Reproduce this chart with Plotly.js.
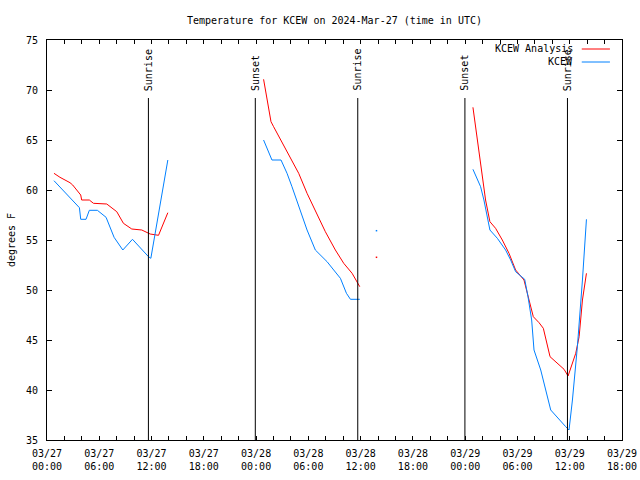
<!DOCTYPE html>
<html>
<head>
<meta charset="utf-8">
<script src="https://cdn.plot.ly/plotly-3.0.1.min.js"></script>
<style>html,body{margin:0;padding:0;background:#fff;}#chart{width:640px;height:480px;}</style>
</head>
<body>
<div id="chart"></div>
<script>
// Hours since 2024-03-27 00:00 UTC; null separates gaps in the record
const anaHours = [0.80,1.49,2.64,2.95,3.87,3.98,4.86,5.33,6.86,7.43,8.01,8.77,9.73,10.88,11.84,12.80,13.87,
  null,
  24.86,25.71,26.01,27.16,27.93,28.89,29.85,30.80,31.95,33.10,34.06,35.02,35.90,
  null,
  37.82,
  null,
  48.89,49.58,50.34,50.84,51.49,52.26,53.03,53.79,54.75,55.33,55.82,56.48,56.97,57.74,58.59,59.35,59.81,60.69,61.08,61.46,61.92];
const anaTemps = [61.67,61.27,60.73,60.5,59.5,59.0,59.0,58.67,58.6,58.23,57.83,56.67,56.1,56.0,55.6,55.47,57.73,
  null,
  71.07,66.83,66.33,64.5,63.33,61.67,59.67,58.0,55.83,54.0,52.67,51.67,50.33,
  null,
  53.27,
  null,
  68.27,63.67,59.0,56.83,56.17,55.0,53.67,52.0,51.0,49.0,47.33,46.73,46.17,43.33,42.67,42.07,41.4,43.67,45.33,49.0,51.67];

const obsHours = [0.80,3.72,3.87,4.48,4.86,5.78,6.78,7.70,8.70,9.81,11.65,11.92,13.87,
  null,
  24.86,25.82,26.86,27.55,28.12,28.89,29.85,30.80,32.15,32.91,33.68,34.37,34.83,35.90,
  null,
  37.82,
  null,
  48.89,49.77,50.15,50.84,51.69,52.64,53.22,53.79,54.83,55.21,55.63,55.90,56.67,57.82,59.54,59.92,60.31,60.88,61.46,61.92];
const obsTemps = [60.93,58.23,57.07,57.07,57.97,57.97,57.27,55.27,54.0,55.07,53.33,53.17,63.0,
  null,
  65.0,63.0,63.0,61.67,60.33,58.33,56.0,54.0,52.83,52.0,51.17,49.67,49.07,49.07,
  null,
  55.93,
  null,
  62.07,60.33,59.0,56.0,55.17,54.0,53.0,51.83,51.07,49.33,47.0,44.0,42.0,38.0,36.33,36.0,39.0,44.33,51.0,57.07];

const eventHours = [11.64, 23.91, 35.67, 47.97, 59.74];
const eventLabels = ["Sunrise", "Sunset", "Sunrise", "Sunset", "Sunrise"];

const seriesNames = ["KCEW Analysis", "KCEW"];
const seriesColors = ["#ff0000", "#0080ff"];

const T0 = Date.UTC(2024, 2, 27);
function toDate(h) {
  if (h === null) return null;
  const d = new Date(T0 + Math.round(h * 3600) * 1000);
  return d.toISOString().slice(0, 19).replace('T', ' ');
}
function isolated(xs, ys) {
  const ox = [], oy = [];
  for (let i = 0; i < ys.length; i++) {
    if (ys[i] === null) continue;
    const prev = i > 0 ? ys[i - 1] : null, next = i < ys.length - 1 ? ys[i + 1] : null;
    if (prev === null && next === null) { ox.push(toDate(xs[i])); oy.push(ys[i]); }
  }
  return {x: ox, y: oy};
}

const font = {family: "DejaVu Sans Mono, monospace", size: 10, color: "#000"};
const traces = [];
[[anaHours, anaTemps], [obsHours, obsTemps]].forEach((s, k) => {
  traces.push({x: s[0].map(toDate), y: s[1], mode: 'lines', name: seriesNames[k],
    line: {color: seriesColors[k], width: 1}, connectgaps: false, showlegend: false, hoverinfo: 'skip'});
  const iso = isolated(s[0], s[1]);
  traces.push({x: iso.x, y: iso.y, mode: 'markers', showlegend: false, hoverinfo: 'skip',
    marker: {color: seriesColors[k], size: 1.5, symbol: 'square', line: {width: 0}}});
});

const shapes = eventHours.map(h => ({type: 'line', xref: 'x', yref: 'paper', x0: toDate(h), x1: toDate(h),
  y0: 0, y1: 0.855, line: {color: '#000', width: 1}}));
const annotations = eventHours.map((h, i) => ({x: toDate(h), xref: 'x', y: 0.868, yref: 'paper',
  text: eventLabels[i], textangle: -90, showarrow: false, xanchor: 'center', yanchor: 'bottom', font: font}));

// legend (text then line sample, as in the reference)
seriesNames.forEach((n, k) => {
  const yy = 0.9775 - k * 0.0325;
  annotations.push({x: 0.919, xref: 'paper', y: yy, yref: 'paper', text: n, showarrow: false,
    xanchor: 'right', yanchor: 'middle', font: font});
  shapes.push({type: 'line', xref: 'paper', yref: 'paper', x0: 0.93, x1: 0.979, y0: yy, y1: yy,
    line: {color: seriesColors[k], width: 1}});
});

const layout = {
  width: 640, height: 480,
  margin: {l: 47, r: 18, t: 40, b: 40},
  paper_bgcolor: '#fff', plot_bgcolor: '#fff',
  font: font,
  title: {text: "Temperature for KCEW on 2024-Mar-27 (time in UTC)", font: font,
    x: 0.5, xref: 'paper', xanchor: 'center', y: 1 - 20 / 480, yref: 'container', yanchor: 'middle'},
  xaxis: {type: 'date', range: [toDate(0), toDate(66)], dtick: 6 * 3600 * 1000, tick0: toDate(0),
    tickformat: '%m/%d<br>%H:%M', ticks: 'inside', ticklen: 4, tickcolor: '#000',
    showline: true, linecolor: '#000', linewidth: 1, mirror: 'allticks', showgrid: false, zeroline: false,
    minor: {dtick: 2 * 3600 * 1000, ticks: 'inside', ticklen: 4, tickcolor: '#000', showgrid: false},
    tickfont: font, ticklabelstandoff: 4},
  yaxis: {range: [35, 75], dtick: 5, ticks: 'inside', ticklen: 5, tickcolor: '#000',
    showline: true, linecolor: '#000', linewidth: 1, mirror: 'allticks', showgrid: false, zeroline: false,
    tickfont: font, ticklabelstandoff: 6,
    title: {text: 'degrees F', font: font, standoff: 8}},
  shapes: shapes,
  annotations: annotations,
  showlegend: false
};

Plotly.newPlot('chart', traces, layout, {staticPlot: true, displayModeBar: false});
</script>
</body>
</html>
